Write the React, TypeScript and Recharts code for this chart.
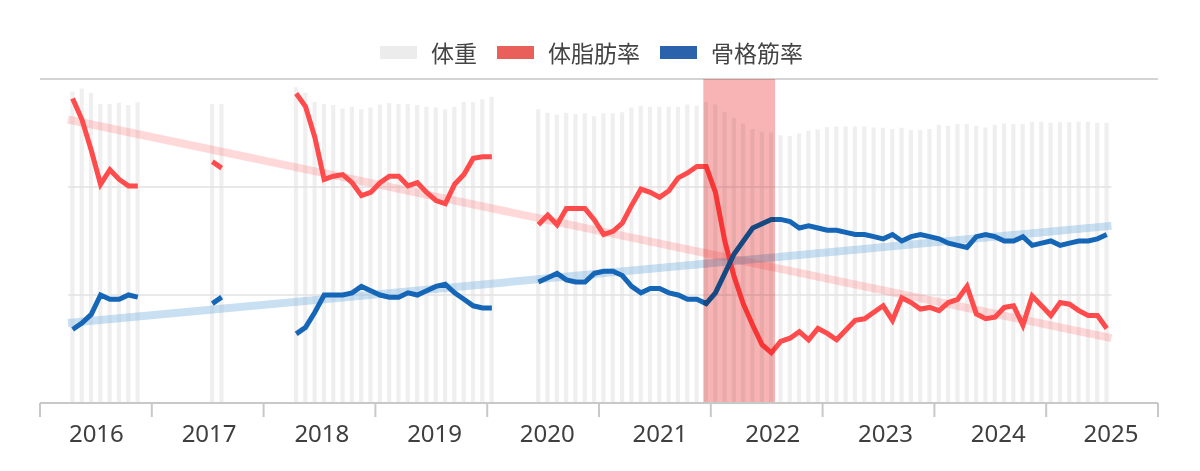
import { ComposedChart, Bar, Line, XAxis, YAxis, ReferenceLine, ReferenceArea, Legend } from 'recharts';

const FONT = "'Noto Sans', 'Noto Sans CJK JP', sans-serif";

const YEARS = ['2016', '2017', '2018', '2019', '2020', '2021', '2022', '2023', '2024', '2025'];
const FIRST_YEAR = 2016;

// months where measuring resumed, each followed by a run of monthly values
const SEGMENT_STARTS = ['2016-04', '2017-07', '2018-04', '2020-06'];

// 体重 (kg)
const WEIGHT = [
  [72.1, 72.8, 71.8, 69.2, 69.2, 69.5, 69.0, 69.6],
  [69.2, 69.2],
  [73.1, 71.8, 69.7, 69.2, 69.0, 68.2, 68.6, 68.0, 68.4, 69.1, 69.4, 69.2, 69.2, 69.0, 68.6, 68.4, 68.0, 68.6, 69.7, 69.7, 70.3, 70.9],
  [
    68.0, 67.2, 66.8, 67.2, 66.9, 67.1, 66.4, 67.1, 67.1, 67.3,
    68.4, 68.8, 68.6, 68.6, 68.6, 68.6, 69.1, 68.8, 69.7, 69.1,
    67.4, 65.9, 64.7, 63.4, 62.8, 62.6, 62.0, 61.8, 62.4, 63.0,
    63.3, 63.9, 64.0, 64.0, 64.0, 64.0, 63.8, 63.7, 63.4, 63.7,
    63.2, 63.2, 63.4, 64.4, 64.2, 64.6, 64.6, 64.2, 63.8, 64.4,
    64.7, 64.6, 64.6, 65.1, 65.1, 64.9, 65.0, 65.0, 65.1, 65.1,
    64.9, 64.9,
  ],
];

// 体脂肪率 (%)
const FAT = [
  [28.8, 27.5, 25.6, 23.5, 24.4, 23.8, 23.4, 23.4],
  [24.9, 24.5],
  [29.1, 28.3, 26.4, 23.8, 24.0, 24.1, 23.6, 22.8, 23.0, 23.6, 24.0, 24.0, 23.4, 23.6, 23.0, 22.5, 22.3, 23.5, 24.1, 25.1, 25.2, 25.2],
  [
    21.0, 21.6, 21.0, 22.0, 22.0, 22.0, 21.3, 20.4, 20.6, 21.1,
    22.2, 23.2, 23.0, 22.7, 23.1, 23.9, 24.2, 24.6, 24.6, 23.0,
    20.0, 17.8, 16.1, 14.8, 13.6, 13.1, 13.8, 14.0, 14.4, 13.9,
    14.6, 14.3, 13.9, 14.5, 15.1, 15.2, 15.6, 16.0, 15.1, 16.5,
    16.2, 15.8, 15.9, 15.7, 16.2, 16.4, 17.2, 15.5, 15.2, 15.3,
    15.9, 16.0, 14.8, 16.6, 16.0, 15.4, 16.2, 16.1, 15.7, 15.4,
    15.4, 14.6,
  ],
];

// 骨格筋率 (%)
const MUSCLE = [
  [28.4, 28.7, 29.1, 30.0, 29.8, 29.8, 30.0, 29.9],
  [29.6, 29.9],
  [28.2, 28.5, 29.2, 30.0, 30.0, 30.0, 30.1, 30.4, 30.2, 30.0, 29.9, 29.9, 30.1, 30.0, 30.2, 30.4, 30.5, 30.1, 29.8, 29.5, 29.4, 29.4],
  [
    30.6, 30.8, 31.0, 30.7, 30.6, 30.6, 31.0, 31.1, 31.1, 30.9,
    30.4, 30.1, 30.3, 30.3, 30.1, 30.0, 29.8, 29.8, 29.6, 30.1,
    31.0, 31.9, 32.5, 33.1, 33.3, 33.5, 33.5, 33.4, 33.1, 33.2,
    33.1, 33.0, 33.0, 32.9, 32.8, 32.8, 32.7, 32.6, 32.8, 32.5,
    32.7, 32.8, 32.7, 32.6, 32.4, 32.3, 32.2, 32.7, 32.8, 32.7,
    32.5, 32.5, 32.7, 32.3, 32.4, 32.5, 32.3, 32.4, 32.5, 32.5,
    32.6, 32.8,
  ],
];

// linear trends, from the first to the last measured month
const TREND_X = [3, 115];
const FAT_TREND = [27.5, 14.0];
const MUSCLE_TREND = [28.7, 33.2];

// highlighted period (months since Jan 2016)
const HIGHLIGHT = [71.2, 78.9];

const WEIGHT_GRID = [25, 50];
const WEIGHT_TOP = 75;

const MONTHS = YEARS.length * 12;
const BOUNDARIES = YEARS.map((_, i) => i * 12).concat(MONTHS);
const YEAR_CENTERS = YEARS.map((_, i) => i * 12 + 6);

const monthIndex = (s: string) => {
  const [y, m] = s.split('-').map(Number);
  return (y - FIRST_YEAR) * 12 + m - 1;
};

const rows = Array.from({ length: MONTHS }, (_, i) => ({
  x: i + 0.5,
  weight: null as number | null,
  fat: null as number | null,
  muscle: null as number | null,
}));
SEGMENT_STARTS.forEach((start, s) => {
  const first = monthIndex(start);
  WEIGHT[s].forEach((v, k) => {
    rows[first + k].weight = v;
    rows[first + k].fat = FAT[s][k];
    rows[first + k].muscle = MUSCLE[s][k];
  });
});

const fatTrend = TREND_X.map((x, i) => ({ x, fat: FAT_TREND[i] }));
const muscleTrend = TREND_X.map((x, i) => ({ x, muscle: MUSCLE_TREND[i] }));

const LEGEND = [
  { name: '体重', color: '#ececec' },
  { name: '体脂肪率', color: '#e9605a' },
  { name: '骨格筋率', color: '#2a62ab' },
];

function LegendBox() {
  return (
    <div
      style={{
        height: 79,
        boxSizing: 'border-box',
        paddingTop: 26,
        paddingLeft: 380,
        display: 'flex',
        alignItems: 'center',
        fontFamily: FONT,
      }}
    >
      {LEGEND.map((item) => (
        <div key={item.name} style={{ display: 'flex', alignItems: 'center', height: 28, marginRight: 20 }}>
          <span style={{ width: 37, height: 13, background: item.color, marginRight: 14, display: 'inline-block' }} />
          <span style={{ fontSize: 23, color: '#444', lineHeight: '28px' }}>{item.name}</span>
        </div>
      ))}
    </div>
  );
}

export default function App() {
  return (
    <div style={{ width: 1200, height: 471, fontFamily: FONT }}>
      <style>{'body{margin:0}'}</style>
      <ComposedChart width={1200} height={471} data={rows} margin={{ top: 0, right: 42, bottom: 0, left: 40 }}>
        <Legend verticalAlign="top" content={() => <LegendBox />} wrapperStyle={{ top: 0, left: 0, width: 1200 }} />
        <XAxis
          xAxisId="month"
          dataKey="x"
          type="number"
          domain={[0, MONTHS]}
          ticks={BOUNDARIES}
          allowDataOverflow
          interval={0}
          tickFormatter={() => ''}
          tickSize={14}
          tickLine={{ stroke: '#c8c8c8', strokeWidth: 2 }}
          axisLine={{ stroke: '#c8c8c8', strokeWidth: 2 }}
          height={1}
        />
        <XAxis
          xAxisId="year"
          type="number"
          domain={[0, MONTHS]}
          ticks={YEAR_CENTERS}
          allowDataOverflow
          interval={0}
          tickFormatter={(v: number) => YEARS[Math.round((v - 6) / 12)]}
          tick={{ fontSize: 24, fill: '#3f3f3f' }}
          axisLine={false}
          tickLine={false}
          tickSize={13}
          tickMargin={8}
          height={67}
        />
        <YAxis yAxisId="w" hide domain={[0, WEIGHT_TOP]} allowDataOverflow />
        <YAxis yAxisId="f" hide domain={[10, 30]} allowDataOverflow />
        <YAxis yAxisId="m" hide domain={[25, 40]} allowDataOverflow />

        <ReferenceLine xAxisId="month" yAxisId="w" y={WEIGHT_TOP} stroke="#d4d4d4" strokeWidth={2} />
        {WEIGHT_GRID.map((g) => (
          <ReferenceLine
            key={g}
            xAxisId="month"
            yAxisId="w"
            segment={[
              { x: TREND_X[0], y: g },
              { x: TREND_X[1], y: g },
            ]}
            stroke="#e2e2e2"
            strokeWidth={1.5}
          />
        ))}

        <Bar xAxisId="month" yAxisId="w" dataKey="weight" name="体重" fill="#efefef" barSize={6} isAnimationActive={false} />

        <Line
          xAxisId="month"
          yAxisId="f"
          data={fatTrend}
          dataKey="fat"
          stroke="#ff6060"
          strokeOpacity={0.24}
          strokeWidth={8}
          dot={false}
          activeDot={false}
          legendType="none"
          isAnimationActive={false}
        />
        <Line
          xAxisId="month"
          yAxisId="m"
          data={muscleTrend}
          dataKey="muscle"
          stroke="#7fb3e0"
          strokeOpacity={0.42}
          strokeWidth={8}
          dot={false}
          activeDot={false}
          legendType="none"
          isAnimationActive={false}
        />
        <Line
          xAxisId="month"
          yAxisId="f"
          dataKey="fat"
          name="体脂肪率"
          stroke="#ff4b4b"
          strokeWidth={5}
          dot={false}
          isAnimationActive={false}
        />
        <Line
          xAxisId="month"
          yAxisId="m"
          dataKey="muscle"
          name="骨格筋率"
          stroke="#1666b8"
          strokeWidth={5}
          dot={false}
          isAnimationActive={false}
        />

        <ReferenceArea
          xAxisId="month"
          yAxisId="w"
          x1={HIGHLIGHT[0]}
          x2={HIGHLIGHT[1]}
          fill="#f8b4b4"
          fillOpacity={1}
          stroke="none"
          zIndex={450}
          style={{ mixBlendMode: 'multiply' }}
        />
      </ComposedChart>
    </div>
  );
}
